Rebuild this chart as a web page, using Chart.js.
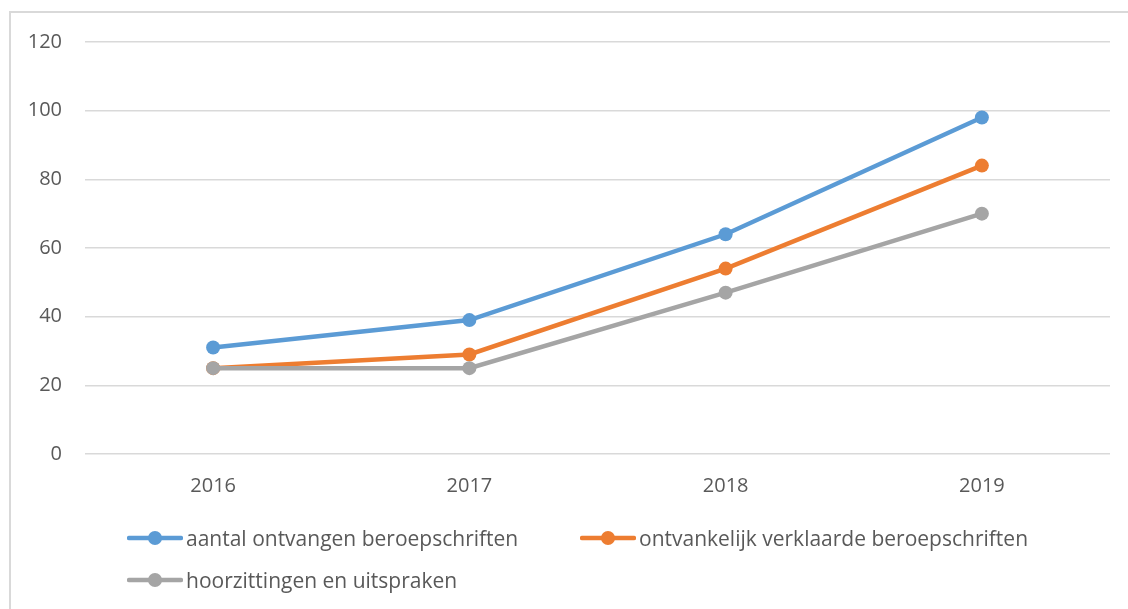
<!DOCTYPE html>
<html>
<head>
<meta charset="utf-8">
<script src="https://cdn.jsdelivr.net/npm/chart.js@4"></script>
<style>
  html, body { margin: 0; padding: 0; background: #fff; }
  #wrap { position: relative; width: 1128px; height: 609px; overflow: hidden; }
  #frame { position: absolute; left: 9px; top: 11px; width: 1200px; height: 700px;
           border-left: 2px solid #d9d9d9; border-top: 2px solid #d9d9d9; }
  #chartBox { position: absolute; left: 0; top: 0; width: 1128px; height: 609px; }
  .legend-item { position: absolute; display: flex; align-items: center;
                 font-family: "Open Sans", sans-serif; font-size: 21px; color: #595959; white-space: nowrap; }
  .legend-item canvas { margin-right: 3px; }
</style>
</head>
<body>
<div id="wrap">
  <div id="frame"></div>
  <div id="chartBox"><canvas id="lineChart"></canvas></div>
  <div id="legend"></div>
</div>
<script>
// Data
const years = ['2016', '2017', '2018', '2019'];
const ontvangen = [31, 39, 64, 98];
const ontvankelijk = [25, 29, 54, 84];
const hoorzittingen = [25, 25, 47, 70];
const yTicks = [0, 20, 40, 60, 80, 100, 120];

const seriesNames = [
  'aantal ontvangen beroepschriften',
  'ontvankelijk verklaarde beroepschriften',
  'hoorzittingen en uitspraken'
];
const seriesColors = ['#5b9bd5', '#ed7d31', '#a5a5a5'];
const textColor = '#595959';

function makeDataset(i, values, order) {
  return {
    label: seriesNames[i],
    data: values,
    borderColor: seriesColors[i],
    backgroundColor: seriesColors[i],
    borderWidth: 4.5,
    pointRadius: 7,
    pointHoverRadius: 7,
    pointBorderWidth: 0,
    tension: 0,
    order: order
  };
}

const ctx = document.getElementById('lineChart');
const chart = new Chart(ctx, {
  type: 'line',
  data: {
    labels: years,
    datasets: [
      makeDataset(0, ontvangen, 2),
      makeDataset(1, ontvankelijk, 1),
      makeDataset(2, hoorzittingen, 0)
    ]
  },
  options: {
    responsive: true,
    maintainAspectRatio: false,
    animation: false,
    layout: { padding: { left: 0, right: 18, top: 42, bottom: 0 } },
    plugins: {
      legend: { display: false },
      tooltip: { enabled: false }
    },
    scales: {
      x: {
        offset: true,
        grid: { display: false, drawTicks: false },
        border: { display: false },
        ticks: { color: textColor, padding: 20, font: { family: 'Open Sans', size: 20 } },
        afterFit: scale => { scale.height = 155; }
      },
      y: {
        min: 0,
        max: 120,
        afterBuildTicks: scale => { scale.ticks = yTicks.map(v => ({ value: v })); },
        grid: { color: '#d9d9d9', lineWidth: 1.5, drawTicks: false },
        border: { display: false },
        ticks: { color: textColor, padding: 23, font: { family: 'Open Sans', size: 20 } },
        afterFit: scale => { scale.width = 85; }
      }
    }
  }
});

// Legend (line + marker, like the reference)
function buildLegend() {
  const legend = document.getElementById('legend');
  const spots = [[127, 538], [580, 538], [127, 580]];
  seriesNames.forEach((name, i) => {
    const item = document.createElement('div');
    item.className = 'legend-item';
    item.style.left = spots[i][0] + 'px';
    item.style.top = (spots[i][1] - 15) + 'px';
    item.style.height = '30px';

    const mark = document.createElement('canvas');
    mark.width = 56;
    mark.height = 16;
    const g = mark.getContext('2d');
    g.strokeStyle = seriesColors[i];
    g.fillStyle = seriesColors[i];
    g.lineWidth = 4.5;
    g.lineCap = 'round';
    g.beginPath();
    g.moveTo(2, 8);
    g.lineTo(54, 8);
    g.stroke();
    g.beginPath();
    g.arc(28, 8, 7, 0, Math.PI * 2);
    g.fill();

    const label = document.createElement('span');
    label.textContent = name;
    item.appendChild(mark);
    item.appendChild(label);
    legend.appendChild(item);
  });
}
buildLegend();
</script>
</body>
</html>
